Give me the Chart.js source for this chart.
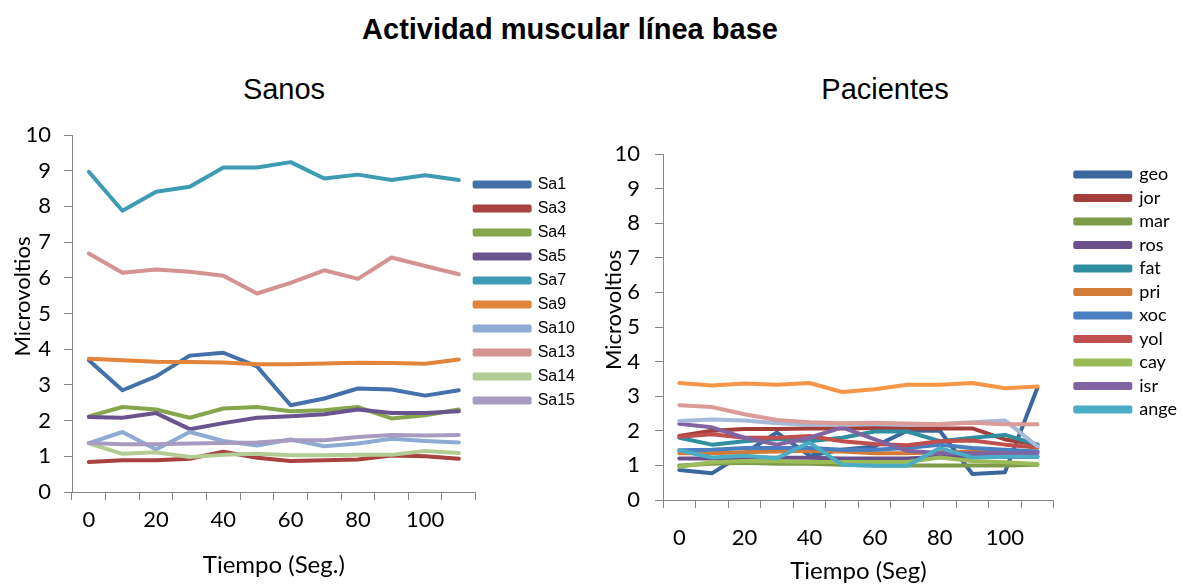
<!DOCTYPE html>
<html>
<head>
<meta charset="utf-8">
<script src="https://cdn.jsdelivr.net/npm/chart.js@4.4.0/dist/chart.umd.min.js"></script>
<style>
    body { margin: 0; background: #fff; width: 1183px; height: 586px; overflow: hidden; position: relative; }
    .ttl { position: absolute; line-height: 34px; white-space: nowrap; color: #000; font-family: "Liberation Sans", Arial, sans-serif; }
    #main-title { left: 0; top: 12px; width: 1140px; text-align: center; font-weight: bold; font-size: 29px; }
    #t-sanos { left: 184px; top: 72px; width: 200px; text-align: center; font-size: 29px; }
    #t-pac { left: 785px; top: 72px; width: 200px; text-align: center; font-size: 29px; }
    #wrap-a { position: absolute; left: 0; top: 0; width: 594px; height: 586px; }
    #wrap-b { position: absolute; left: 590px; top: 0; width: 593px; height: 586px; }
</style>
</head>
<body>
<div class="ttl" id="main-title">Actividad muscular línea base</div>
<div class="ttl" id="t-sanos">Sanos</div>
<div class="ttl" id="t-pac">Pacientes</div>
<div id="wrap-a"><canvas id="chart-sanos"></canvas></div>
<div id="wrap-b"><canvas id="chart-pac"></canvas></div>
<script>
// tiempo en segundos (eje x)
const tiempos = ['0', '10', '20', '30', '40', '50', '60', '70', '80', '90', '100', '110'];

// --- Sanos ---
const sanosNames = ['Sa1', 'Sa3', 'Sa4', 'Sa5', 'Sa7', 'Sa9', 'Sa10', 'Sa13', 'Sa14', 'Sa15'];
const sa1  = [3.69, 2.85, 3.24, 3.82, 3.90, 3.52, 2.43, 2.62, 2.90, 2.87, 2.70, 2.85];
const sa3  = [0.84, 0.89, 0.89, 0.93, 1.13, 0.96, 0.87, 0.89, 0.91, 1.02, 1.00, 0.93];
const sa4  = [2.12, 2.38, 2.31, 2.08, 2.34, 2.38, 2.26, 2.29, 2.38, 2.06, 2.15, 2.31];
const sa5  = [2.10, 2.08, 2.21, 1.76, 1.93, 2.08, 2.12, 2.18, 2.31, 2.21, 2.21, 2.26];
const sa7  = [8.97, 7.88, 8.41, 8.55, 9.09, 9.09, 9.24, 8.78, 8.89, 8.74, 8.87, 8.74];
const sa9  = [3.73, 3.69, 3.65, 3.64, 3.63, 3.58, 3.58, 3.60, 3.62, 3.61, 3.59, 3.71];
const sa10 = [1.37, 1.68, 1.19, 1.68, 1.43, 1.30, 1.47, 1.28, 1.36, 1.49, 1.43, 1.39];
const sa13 = [6.68, 6.14, 6.23, 6.17, 6.06, 5.56, 5.86, 6.21, 5.97, 6.57, 6.33, 6.10];
const sa14 = [1.36, 1.07, 1.11, 0.98, 1.04, 1.07, 1.03, 1.03, 1.04, 1.04, 1.15, 1.09];
const sa15 = [1.37, 1.34, 1.34, 1.36, 1.37, 1.39, 1.45, 1.45, 1.54, 1.60, 1.58, 1.60];
const sanosColors = ['#4471A9', '#A8413F', '#87A64B', '#6A5490', '#3D9BB4', '#E2843A', '#8FABD3', '#D49392', '#B3CC95', '#A89BC2'];

// --- Pacientes (las 3 ultimas no salen en la leyenda) ---
const pacNames = ['geo', 'jor', 'mar', 'ros', 'fat', 'pri', 'xoc', 'yol', 'cay', 'isr', 'ange', 'p12', 'p13', 'p14'];
const geo  = [0.87, 0.77, 1.35, 1.95, 1.28, 1.45, 1.55, 2.00, 2.00, 0.75, 0.80, 3.25];
const jor  = [1.85, 2.00, 2.05, 2.05, 2.07, 2.07, 2.08, 2.07, 2.07, 2.07, 1.75, 1.60];
const mar  = [1.00, 1.05, 1.08, 1.05, 1.05, 1.02, 1.00, 1.00, 1.00, 1.00, 1.00, 1.02];
const ros  = [1.20, 1.20, 1.22, 1.22, 1.22, 1.20, 1.20, 1.20, 1.25, 1.25, 1.25, 1.25];
const fat  = [1.80, 1.60, 1.70, 1.76, 1.70, 1.80, 1.98, 1.98, 1.70, 1.80, 1.88, 1.60];
const pri  = [1.35, 1.35, 1.38, 1.40, 1.42, 1.40, 1.35, 1.35, 1.38, 1.40, 1.40, 1.40];
const xoc  = [1.44, 1.45, 1.50, 1.50, 1.50, 1.45, 1.45, 1.50, 1.60, 1.50, 1.45, 1.40];
const yol  = [1.83, 1.90, 1.80, 1.80, 1.85, 1.70, 1.62, 1.58, 1.70, 1.72, 1.60, 1.52];
const cay  = [0.96, 1.09, 1.13, 1.12, 1.10, 1.10, 1.10, 1.10, 1.23, 1.13, 1.09, 1.04];
const isr  = [2.20, 2.10, 1.80, 1.60, 1.80, 2.10, 1.75, 1.42, 1.35, 1.35, 1.35, 1.35];
const ange = [1.44, 1.23, 1.28, 1.21, 1.66, 1.02, 0.99, 0.99, 1.50, 1.23, 1.25, 1.25];
const p12  = [2.28, 2.33, 2.30, 2.22, 2.18, 2.18, 2.20, 2.18, 2.20, 2.25, 2.30, 1.55];
const p13  = [2.74, 2.69, 2.48, 2.31, 2.25, 2.22, 2.23, 2.21, 2.19, 2.23, 2.19, 2.19];
const p14  = [3.38, 3.31, 3.37, 3.33, 3.38, 3.12, 3.20, 3.33, 3.33, 3.38, 3.23, 3.28];
const pacColors = ['#3B679D', '#A33E3B', '#7F9A48', '#6A518B', '#2F8E9F', '#D17B36', '#4A7FC1', '#C0504D', '#9BBB59', '#8064A2', '#4BACC6', '#A7B9D9', '#DA9B99', '#F79646'];
const pacLegendCount = 11;

const AXIS = '#868686';
const CAL = 'Lato, "Open Sans", sans-serif';

function makeSets(names, series, colors) {
    // order invertido: la ultima serie queda encima (como en Excel)
    return names.map((n, i) => ({
        label: n, data: series[i], borderColor: colors[i], backgroundColor: colors[i],
        borderWidth: 4, pointRadius: 0, tension: 0, borderJoinStyle: 'round', borderCapStyle: 'round',
        order: names.length - i,
    }));
}

// mueve la leyenda horizontalmente (Chart.js siempre deja padding entre area y leyenda)
const legendNudge = {
    id: 'legendNudge',
    afterLayout(chart, args, opts) {
        if (!chart.legend || !opts.dx) return;
        chart.legend.left += opts.dx;
        chart.legend.right += opts.dx;
    },
};

function makeOptions(c) {
    return {
        responsive: true, maintainAspectRatio: false, animation: false,
        layout: { padding: c.pad },
        plugins: {
            title: { display: false },
            tooltip: { enabled: false },
            legendNudge: { dx: c.legendDx },
            legend: {
                position: 'right', align: 'start', fullSize: false, reverse: true,
                title: { display: true, text: '', font: { size: c.legTitleSize }, padding: 0 },
                labels: {
                    color: '#000', font: c.legFont, boxWidth: 55, boxHeight: 4,
                    padding: c.legPad,
                    filter: (item) => item.datasetIndex < c.legendCount,
                },
            },
        },
        scales: {
            x: {
                offset: true,
                border: { color: AXIS, width: 1 },
                grid: { display: true, drawOnChartArea: false, drawTicks: true, tickLength: 8, color: AXIS, offset: true },
                ticks: {
                    autoSkip: false, maxRotation: 0, color: '#000', padding: c.xTickPad,
                    font: { family: CAL, size: 22 },
                    callback: (v, i) => (i % 2 === 0 ? tiempos[i] : ''),
                },
                title: { display: true, text: c.xTitle, color: '#000', font: { family: CAL, size: 24 }, padding: 0 },
                afterFit: (s) => { s.height = c.xHeight; },
            },
            y: {
                min: 0, max: 10,
                border: { color: AXIS, width: 1 },
                grid: { display: true, drawOnChartArea: false, drawTicks: true, tickLength: 8, color: AXIS },
                ticks: { stepSize: 1, color: '#000', padding: c.yTickPad, font: { family: CAL, size: 22 } },
                // espacios delante: el titulo queda algo mas arriba, como en el original
                title: { display: true, text: '      Microvoltios', color: '#000', font: { family: CAL, size: 22 }, padding: 0 },
                afterFit: (s) => { s.width = 62; },
            },
        },
    };
}

new Chart(document.getElementById('chart-sanos'), {
    type: 'line',
    data: { labels: tiempos, datasets: makeSets(sanosNames, [sa1, sa3, sa4, sa5, sa7, sa9, sa10, sa13, sa14, sa15], sanosColors) },
    options: makeOptions({
        pad: { left: 10, top: 135, right: 0, bottom: 6.6 },
        xHeight: 87.4, xTickPad: 7, yTickPad: 13, xTitle: 'Tiempo (Seg.)',
        legendCount: 10, legendDx: -9, legPad: 8, legTitleSize: 28,
        legFont: { family: '"Liberation Sans", Arial, sans-serif', size: 16 },
    }),
    plugins: [legendNudge],
});

new Chart(document.getElementById('chart-pac'), {
    type: 'line',
    data: { labels: tiempos, datasets: makeSets(pacNames, [geo, jor, mar, ros, fat, pri, xoc, yol, cay, isr, ange, p12, p13, p14], pacColors) },
    options: makeOptions({
        pad: { left: 11, top: 154, right: 12, bottom: 0 },
        xHeight: 86, xTickPad: 17, yTickPad: 15, xTitle: 'Tiempo (Seg)',
        legendCount: pacLegendCount, legendDx: 16, legPad: 5.5, legTitleSize: 5,
        legFont: { family: CAL, size: 18 },
    }),
    plugins: [legendNudge],
});
</script>
</body>
</html>
